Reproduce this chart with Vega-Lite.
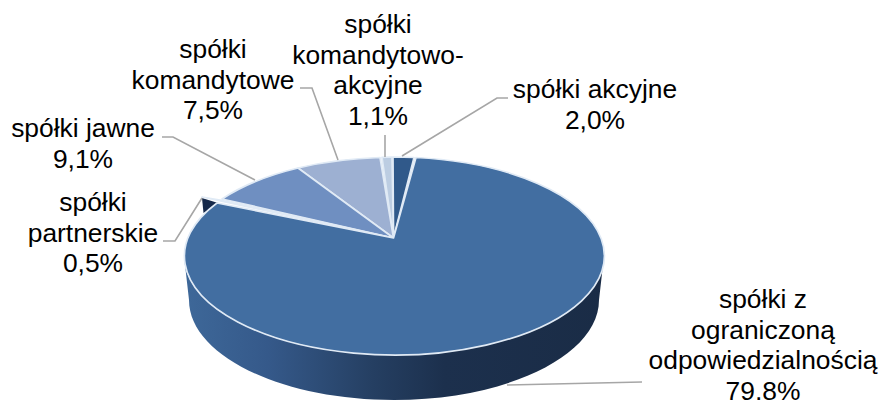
{
"$schema":"https://vega.github.io/schema/vega-lite/v6.json",
"width":880,"height":400,"padding":0,"autosize":"none",
"background":"white",
"config":{"view":{"stroke":null}},
"data":{"values":[
{"spolka":"spółki akcyjne","udzial":2.0,"etykieta":"spółki akcyjne\n2,0%"},
{"spolka":"spółki komandytowo-akcyjne","udzial":1.1,"etykieta":"spółki\nkomandytowo-\nakcyjne\n1,1%"},
{"spolka":"spółki komandytowe","udzial":7.5,"etykieta":"spółki\nkomandytowe\n7,5%"},
{"spolka":"spółki jawne","udzial":9.1,"etykieta":"spółki jawne\n9,1%"},
{"spolka":"spółki partnerskie","udzial":0.5,"etykieta":"spółki\npartnerskie\n0,5%"},
{"spolka":"spółki z ograniczoną odpowiedzialnością","udzial":79.8,"etykieta":"spółki z\nograniczoną\nodpowiedzialnością\n79,8%"}
]},
"resolve":{"scale":{"shape":"independent","fill":"independent"}},
"layer":[
{"transform":[{"filter":"datum.udzial == 79.8"}],
 "mark":{"type":"point","filled":true,"opacity":1,"size":4,"strokeWidth":0,"fill":{"gradient":"linear","x1":0,"x2":1,"y1":0,"y2":0,"stops":[{"offset":0,"color":"#3e6899"},{"offset":0.2,"color":"#35598a"},{"offset":0.45,"color":"#253f62"},{"offset":0.62,"color":"#1c304d"},{"offset":1,"color":"#1a2c46"}]}},
 "encoding":{"shape":{"field":"spolka","type":"nominal","legend":null,"scale":{"domain":["spółki z ograniczoną odpowiedzialnością"],"range":["M-256 56A210 99 0 0 0 164 56L159 100A205 100 0 0 1 -251 100Z"]}}}},
{"transform":[{"filter":"datum.udzial == 0.5"}],
 "mark":{"type":"point","filled":true,"opacity":1,"size":4,"strokeWidth":0,"fill":"#16294a"},
 "encoding":{"shape":{"field":"spolka","type":"nominal","legend":null,"scale":{"domain":["spółki partnerskie"],"range":["M-238 -2L-236.5 13L-222 3Z"]}}}},
{"mark":{"type":"point","filled":true,"opacity":1,"size":4,"stroke":"#e0eaf5","strokeWidth":1.7,"strokeJoin":"round"},
 "encoding":{
  "shape":{"field":"spolka","type":"nominal","legend":null,"scale":{"domain":["spółki z ograniczoną odpowiedzialnością","spółki akcyjne","spółki komandytowo-akcyjne","spółki komandytowe","spółki jawne","spółki partnerskie"],"range":[
   "M-46.5 38L-24 -42.5A210 99 0 1 1 -223 3Z",
   "M-46.5 38L-47 -43A210 99 0 0 1 -26 -42.5Z",
   "M-46.5 38L-58 -42.7A210 99 0 0 1 -48 -43Z",
   "M-46.5 38L-142 -32A210 99 0 0 1 -60 -42.5Z",
   "M-46.5 38L-218 -1A210 99 0 0 1 -142 -32Z",
   "M-46.5 38L-238 -3L-220 0Z"]}},
  "fill":{"field":"spolka","type":"nominal","legend":null,"scale":{"domain":["spółki z ograniczoną odpowiedzialnością","spółki akcyjne","spółki komandytowo-akcyjne","spółki komandytowe","spółki jawne","spółki partnerskie"],"range":["#426ea1","#30598a","#bccde2","#9db0d2","#6f8fc1","#a9bdd8"]}}
 }},
{"mark":{"type":"point","filled":false,"opacity":1,"size":4,"stroke":"#a6a6a6","strokeWidth":1.6},
 "encoding":{"shape":{"field":"spolka","type":"nominal","legend":null,"scale":{"domain":["spółki z ograniczoną odpowiedzialnością","spółki akcyjne","spółki komandytowo-akcyjne","spółki komandytowe","spółki jawne","spółki partnerskie"],"range":[
   "M67 185L202 182",
   "M-38 -44L57 -102L68 -102",
   "M-55 -43L-55 -65",
   "M-102 -40L-128 -112L-140 -112",
   "M-185 -20L-267 -63L-278 -63",
   "M-238 -2L-265 41L-277 41"]}}}},
{"mark":{"type":"text","font":"Liberation Sans","fontSize":26.4,"lineBreak":"\n","lineHeight":30.5,"align":"center","baseline":"alphabetic","color":"#000000"},
 "encoding":{
  "text":{"field":"etykieta"},
  "x":{"field":"udzial","type":"quantitative","axis":null,"scale":{"zero":false,"nice":false,"domain":[0.5,1.1,2.0,7.5,9.1,79.8],"range":[93,378,595,213,83,763]}},
  "y":{"field":"udzial","type":"quantitative","axis":null,"scale":{"zero":false,"nice":false,"domain":[0.5,1.1,2.0,7.5,9.1,79.8],"range":[211,33,98,58,137,308]}}
 }}
]
}
